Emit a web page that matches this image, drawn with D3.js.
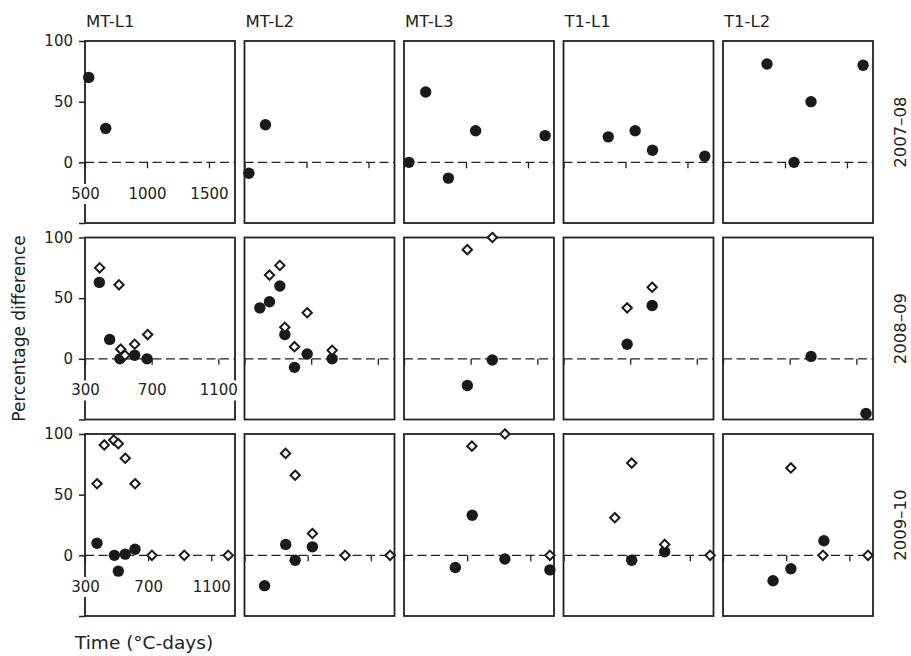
<!DOCTYPE html>
<html>
<head>
<meta charset="utf-8">
<script src="https://cdn.jsdelivr.net/npm/d3@7"></script>
<style>
  body { margin: 0; background: #fff; }
  svg text { font-family: "DejaVu Sans", Verdana, sans-serif; fill: #222; }
</style>
</head>
<body>
<div id="chart"></div>
<script>
// panels: columns are sites, rows are seasons
var columns = ["MT-L1", "MT-L2", "MT-L3", "T1-L1", "T1-L2"];
var seasons = ["2007–08", "2008–09", "2009–10"];

var xTicks = [[500, 1000, 1500], [300, 700, 1100], [300, 700, 1100]];
var yTicks = [100, 50, 0, -50];

// filled circles, one list per column, [°C-days, % difference]
var filled0708 = [
  [[530, 70], [667, 28]],
  [[535, -9], [669, 31]],
  [[540, 0], [675, 58], [858, -13], [1078, 26], [1638, 22]],
  [[861, 21], [1078, 26], [1218, 10], [1640, 5]],
  [[855, 81], [1073, 0], [1210, 50], [1630, 80]]
];
var open0708 = [[], [], [], [], []];

var filled0809 = [
  [[386, 63], [448, 16], [510, 0], [598, 3], [672, 0]],
  [[392, 42], [450, 47], [512, 60], [542, 20], [600, -7], [676, 4], [826, 0]],
  [[680, -22], [830, -1]],
  [[682, 12], [832, 44]],
  [[828, 2], [1158, -45]]
];
var open0809 = [
  [[388, 75], [504, 61], [514, 8], [540, 3], [598, 12], [676, 20]],
  [[450, 69], [512, 77], [542, 26], [600, 10], [676, 38], [826, 7]],
  [[680, 90], [830, 100]],
  [[682, 42], [832, 59]],
  []
];

var filled0910 = [
  [[376, 10], [486, 0], [511, -13], [555, 1], [617, 5]],
  [[427, -25], [561, 9], [621, -4], [730, 7]],
  [[625, -10], [732, 33], [939, -3], [1224, -12]],
  [[732, -4], [941, 3]],
  [[617, -21], [730, -11], [939, 12]]
];
var open0910 = [
  [[376, 59], [422, 91], [482, 95], [511, 92], [555, 80], [617, 59], [724, 0], [929, 0], [1207, 0]],
  [[560, 84], [621, 66], [730, 18], [937, 0], [1222, 0]],
  [[730, 90], [939, 100], [1224, 0]],
  [[625, 31], [732, 76], [941, 9], [1229, 0]],
  [[730, 72], [933, 0], [1218, 0]]
];

var filledRows = [filled0708, filled0809, filled0910];
var openRows = [open0708, open0809, open0910];
var xDomains = [[500, 1710], [300, 1200], [300, 1250]];

// layout
var width = 911, height = 656;
var padLeft = 85, padTop = 41;
var pw = 150, ph = 182;
var colStep = 159.5, rowStep = 196.5;

var svg = d3.select("#chart").append("svg")
    .attr("width", width)
    .attr("height", height);

var y = d3.scaleLinear().domain([-50, 100]).range([ph, 0]);
var diamond = d3.symbol().type(d3.symbolDiamond2).size(56);

seasons.forEach(function(season, r) {
    var x = d3.scaleLinear().domain(xDomains[r]).range([0, pw]);

    columns.forEach(function(col, c) {
        var g = svg.append("g")
            .attr("transform", "translate(" + (padLeft + c * colStep) + "," + (padTop + r * rowStep) + ")");

        // zero line
        g.append("line")
            .attr("x1", 0).attr("x2", pw)
            .attr("y1", y(0)).attr("y2", y(0))
            .attr("stroke", "#222")
            .attr("stroke-width", 1.4)
            .attr("stroke-dasharray", "9,4.5");

        // x ticks hang off the zero line
        var xa = g.append("g")
            .attr("transform", "translate(0," + y(0) + ")")
            .call(d3.axisBottom(x)
                .tickValues(xTicks[r])
                .tickSize(6)
                .tickPadding(20)
                .tickFormat(c === 0 ? d3.format("d") : function() { return ""; }));
        xa.select(".domain").remove();
        xa.selectAll("line").attr("stroke", "#222").attr("stroke-width", 1.3);
        xa.selectAll("text").attr("font-size", 15).attr("fill", "#222");

        // frame
        g.append("rect")
            .attr("width", pw).attr("height", ph)
            .attr("fill", "none")
            .attr("stroke", "#222")
            .attr("stroke-width", 1.8);

        // white patches behind the x labels so they break the frame
        if (c === 0) {
            xa.raise();
            xa.selectAll(".tick").each(function() {
                var t = d3.select(this).select("text");
                var b = t.node().getBBox();
                d3.select(this).insert("rect", "text")
                    .attr("x", b.x - 2).attr("y", b.y - 1)
                    .attr("width", b.width + 4).attr("height", b.height + 2)
                    .attr("fill", "#fff");
            });

            var ya = g.append("g")
                .call(d3.axisLeft(y)
                    .tickValues(yTicks)
                    .tickSize(6)
                    .tickPadding(6)
                    .tickFormat(function(d) { return d < 0 ? "" : d; }));
            ya.select(".domain").remove();
            ya.selectAll("line").attr("stroke", "#222").attr("stroke-width", 1.5);
            ya.selectAll("text").attr("font-size", 15).attr("fill", "#222");
        }

        g.selectAll("circle")
            .data(filledRows[r][c])
            .enter().append("circle")
            .attr("cx", function(d) { return x(d[0]); })
            .attr("cy", function(d) { return y(d[1]); })
            .attr("r", 5.7)
            .attr("fill", "#1a1a1a");

        g.selectAll("path.open")
            .data(openRows[r][c])
            .enter().append("path")
            .attr("class", "open")
            .attr("d", diamond)
            .attr("transform", function(d) { return "translate(" + x(d[0]) + "," + y(d[1]) + ")"; })
            .attr("fill", "#fff")
            .attr("stroke", "#1a1a1a")
            .attr("stroke-width", 2);

        if (r === 0) {
            svg.append("text")
                .attr("x", padLeft + c * colStep + 1)
                .attr("y", 27)
                .attr("font-size", 16.5)
                .text(col);
        }
    });

    svg.append("text")
        .attr("transform", "translate(900," + (padTop + r * rowStep + ph / 2) + ") rotate(-90)")
        .attr("text-anchor", "middle")
        .attr("dy", "0.35em")
        .attr("font-size", 16.5)
        .text(season);
});

svg.append("text")
    .attr("transform", "translate(19," + (padTop + rowStep + ph / 2) + ") rotate(-90)")
    .attr("text-anchor", "middle")
    .attr("dy", "0.35em")
    .attr("font-size", 17)
    .text("Percentage difference");

svg.append("text")
    .attr("x", 75)
    .attr("y", 649)
    .attr("font-size", 18.5)
    .text("Time (°C-days)");
</script>
</body>
</html>
